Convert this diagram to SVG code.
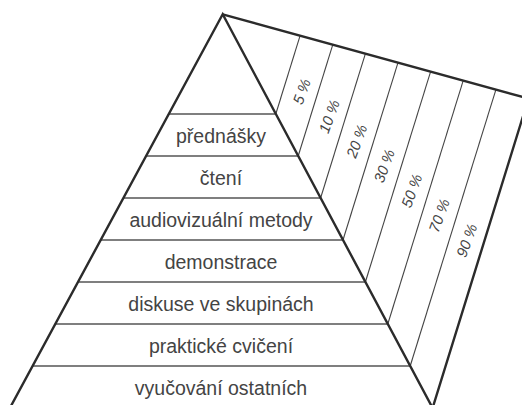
<svg xmlns="http://www.w3.org/2000/svg" width="522" height="405" viewBox="0 0 522 405">
  <style>
    .edge { fill: none; stroke: #2b2b2b; stroke-width: 2.4; stroke-linejoin: miter; }
    .band { stroke: #555; stroke-width: 1.5; }
    .div { stroke: #444; stroke-width: 1.1; }
    .lbl { font-family: "Liberation Sans", Arial, sans-serif; font-size: 19.5px; fill: #444; text-anchor: middle; }
    .pct { font-family: "Liberation Sans", Arial, sans-serif; font-size: 15px; font-style: italic; fill: #444; text-anchor: middle; }
  </style>
  <rect width="522" height="405" fill="#fff"/>

  <g id="connectors">
    <!-- horizontal band separators -->
    <line class="band" x1="168.8" y1="114" x2="275.8" y2="114"/>
    <line class="band" x1="146.1" y1="156" x2="298.2" y2="156"/>
    <line class="band" x1="123.4" y1="198" x2="320.6" y2="198"/>
    <line class="band" x1="100.7" y1="240" x2="343.0" y2="240"/>
    <line class="band" x1="78.0" y1="282" x2="365.4" y2="282"/>
    <line class="band" x1="55.3" y1="324" x2="387.8" y2="324"/>
    <line class="band" x1="32.6" y1="366" x2="410.2" y2="366"/>
    <!-- percentage strip dividers -->
    <line class="div" x1="275.8" y1="114" x2="300.1" y2="35.6"/>
    <line class="div" x1="298.2" y1="156" x2="332.8" y2="44.6"/>
    <line class="div" x1="320.6" y1="198" x2="365.4" y2="53.6"/>
    <line class="div" x1="343.0" y1="240" x2="398.0" y2="62.6"/>
    <line class="div" x1="365.4" y1="282" x2="430.6" y2="71.6"/>
    <line class="div" x1="387.8" y1="324" x2="463.2" y2="80.6"/>
    <line class="div" x1="410.2" y1="366" x2="495.9" y2="89.6"/>
  </g>

  <g id="outline">
    <polyline class="edge" points="8.8,410 222.7,14.3 432.6,408"/>
    <polyline class="edge" points="222.7,14.3 528.5,98.6 432.6,408"/>
  </g>

  <g id="node-prednasky"><text class="lbl" x="221" y="142.5">přednášky</text></g>
  <g id="node-cteni"><text class="lbl" x="221" y="184.5">čtení</text></g>
  <g id="node-audiovizualni"><text class="lbl" x="221" y="226.5">audiovizuální metody</text></g>
  <g id="node-demonstrace"><text class="lbl" x="221" y="268.5">demonstrace</text></g>
  <g id="node-diskuse"><text class="lbl" x="221" y="310.5">diskuse ve skupinách</text></g>
  <g id="node-prakticke"><text class="lbl" x="221" y="352.5">praktické cvičení</text></g>
  <g id="node-vyucovani"><text class="lbl" x="221" y="394.5">vyučování ostatních</text></g>

  <g id="node-p5"><text class="pct" transform="translate(301.5,91.5) rotate(-70)" y="5.5">5 %</text></g>
  <g id="node-p10"><text class="pct" transform="translate(329,116.3) rotate(-70)" y="5.5">10 %</text></g>
  <g id="node-p20"><text class="pct" transform="translate(356.5,141.1) rotate(-70)" y="5.5">20 %</text></g>
  <g id="node-p30"><text class="pct" transform="translate(384,165.9) rotate(-70)" y="5.5">30 %</text></g>
  <g id="node-p50"><text class="pct" transform="translate(411.5,190.7) rotate(-70)" y="5.5">50 %</text></g>
  <g id="node-p70"><text class="pct" transform="translate(439,215.5) rotate(-70)" y="5.5">70 %</text></g>
  <g id="node-p90"><text class="pct" transform="translate(466.5,240.3) rotate(-70)" y="5.5">90 %</text></g>
</svg>
